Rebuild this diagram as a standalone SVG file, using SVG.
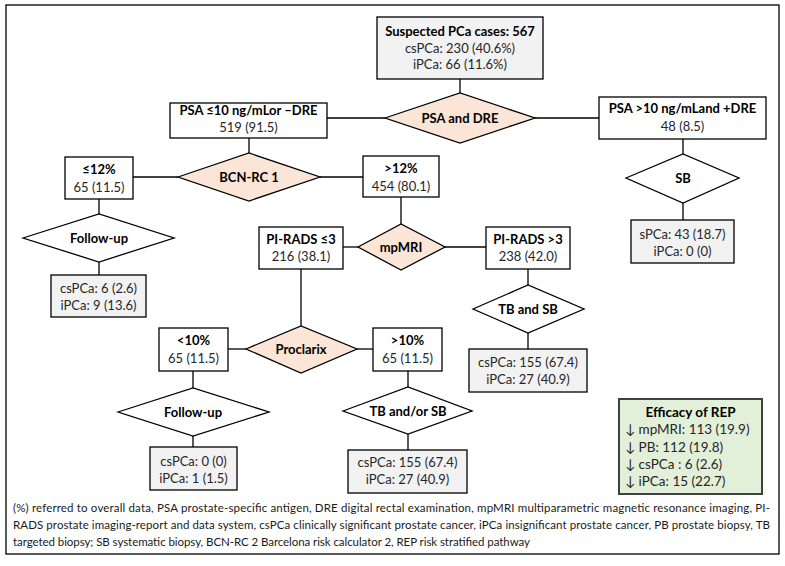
<svg xmlns="http://www.w3.org/2000/svg" width="785" height="566" viewBox="0 0 785 566">
<style>
text{font-family:Lato,"Open Sans","Liberation Sans",sans-serif;font-size:13px;fill:#262626;text-anchor:middle}
.b{font-weight:bold;fill:#000}
.box{fill:#fff;stroke:#000;stroke-width:1.3}
.res{fill:#f2f2f2;stroke:#000;stroke-width:1.3}
.dp{fill:#fbe5d6;stroke:#000;stroke-width:1.3}
.dw{fill:#fff;stroke:#000;stroke-width:1.3}
.fn{font-size:11.5px;text-anchor:start;fill:#1a1a1a}
.eff{text-anchor:start;font-size:13.5px}
#connectors line{stroke:#000;stroke-width:1.3}
</style>
<rect x="6" y="5" width="773" height="549" fill="#fff" stroke="#000" stroke-width="1.3"/>
<g id="connectors">
<line x1="460" y1="79" x2="460" y2="93"/>
<line x1="327" y1="118" x2="385" y2="118"/>
<line x1="535" y1="118" x2="599" y2="118"/>
<line x1="683" y1="139" x2="683" y2="154"/>
<line x1="683" y1="203" x2="683" y2="220"/>
<line x1="249" y1="138" x2="249" y2="153"/>
<line x1="133" y1="177" x2="178" y2="177"/>
<line x1="320" y1="177" x2="363" y2="177"/>
<line x1="99" y1="199" x2="99" y2="214"/>
<line x1="99" y1="262" x2="99" y2="275"/>
<line x1="401" y1="197" x2="401" y2="224"/>
<line x1="343" y1="247" x2="358" y2="247"/>
<line x1="445" y1="247" x2="486" y2="247"/>
<line x1="528" y1="269" x2="528" y2="285"/>
<line x1="528" y1="333" x2="528" y2="349"/>
<line x1="301" y1="269" x2="301" y2="326"/>
<line x1="228" y1="349" x2="246" y2="349"/>
<line x1="357" y1="349" x2="373" y2="349"/>
<line x1="193" y1="371" x2="193" y2="388"/>
<line x1="193" y1="436" x2="193" y2="447"/>
<line x1="408" y1="371" x2="408" y2="387"/>
<line x1="408" y1="434" x2="408" y2="450"/>
</g>
<g id="start">
<rect class="res" x="377" y="17" width="166" height="62"/>
<text class="b" x="460" y="35.5">Suspected PCa cases: 567</text>
<text x="460" y="52.5">csPCa: 230 (40.6%)</text>
<text x="460" y="68.5">iPCa: 66 (11.6%)</text>
</g>
<g id="psa-dre">
<polygon class="dp" points="385,118 460,93 535,118 460,143"/>
<text class="b" x="460" y="122.5">PSA and DRE</text>
</g>
<g id="psa-low">
<rect class="box" x="170" y="103" width="157" height="35"/>
<text class="b" x="248.5" y="114.5">PSA ≤10 ng/mLor –DRE</text>
<text x="248.5" y="131.5">519 (91.5)</text>
</g>
<g id="psa-high">
<rect class="box" x="599" y="97" width="167" height="42"/>
<text class="b" x="682.5" y="112.5">PSA &gt;10 ng/mLand +DRE</text>
<text x="682.5" y="130.5">48 (8.5)</text>
</g>
<g id="sb">
<polygon class="dw" points="626,178 683,154 739,178 683,203"/>
<text class="b" x="683" y="182.5">SB</text>
</g>
<g id="sb-result">
<rect class="res" x="631" y="220" width="103" height="43"/>
<text x="682.5" y="238.5">sPCa: 43 (18.7)</text>
<text x="682.5" y="256">iPCa: 0 (0)</text>
</g>
<g id="bcn">
<polygon class="dp" points="178,177 249,153 320,177 249,201"/>
<text class="b" x="249" y="181.5">BCN-RC 1</text>
</g>
<g id="bcn-low">
<rect class="box" x="65" y="157" width="68" height="42"/>
<text class="b" x="99" y="173.5">≤12%</text>
<text x="99" y="191.5">65 (11.5)</text>
</g>
<g id="bcn-high">
<rect class="box" x="363" y="156" width="76" height="41"/>
<text class="b" x="401" y="173">&gt;12%</text>
<text x="401" y="191">454 (80.1)</text>
</g>
<g id="follow-up-1">
<polygon class="dw" points="23,238 99,214 174,238 99,262"/>
<text class="b" x="99" y="242.5">Follow-up</text>
</g>
<g id="follow-up-1-result">
<rect class="res" x="51" y="275" width="95" height="42"/>
<text x="98.5" y="292.5">csPCa: 6 (2.6)</text>
<text x="98.5" y="310">iPCa: 9 (13.6)</text>
</g>
<g id="mpmri">
<polygon class="dp" points="358,247 401,224 445,247 401,270"/>
<text class="b" x="401" y="251.5">mpMRI</text>
</g>
<g id="pirads-low">
<rect class="box" x="259" y="227" width="84" height="42"/>
<text class="b" x="301" y="243.5">PI-RADS ≤3</text>
<text x="301" y="261">216 (38.1)</text>
</g>
<g id="pirads-high">
<rect class="box" x="486" y="227" width="84" height="42"/>
<text class="b" x="528" y="243.5">PI-RADS &gt;3</text>
<text x="528" y="261">238 (42.0)</text>
</g>
<g id="tb-sb">
<polygon class="dw" points="473,309 528,285 584,309 528,333"/>
<text class="b" x="528" y="313.5">TB and SB</text>
</g>
<g id="tb-sb-result">
<rect class="res" x="469" y="349" width="118" height="43"/>
<text x="528" y="366.5">csPCa: 155 (67.4)</text>
<text x="528" y="383.5">iPCa: 27 (40.9)</text>
</g>
<g id="proclarix">
<polygon class="dp" points="246,349 301,326 357,349 301,373"/>
<text class="b" x="301" y="353.5">Proclarix</text>
</g>
<g id="proclarix-low">
<rect class="box" x="159" y="328" width="69" height="43"/>
<text class="b" x="193.5" y="345">&lt;10%</text>
<text x="193.5" y="363">65 (11.5)</text>
</g>
<g id="proclarix-high">
<rect class="box" x="373" y="328" width="69" height="43"/>
<text class="b" x="407.5" y="345">&gt;10%</text>
<text x="407.5" y="363">65 (11.5)</text>
</g>
<g id="follow-up-2">
<polygon class="dw" points="118,412 193,388 269,412 193,436"/>
<text class="b" x="193" y="416.5">Follow-up</text>
</g>
<g id="follow-up-2-result">
<rect class="res" x="150" y="447" width="87" height="43"/>
<text x="193.5" y="466">csPCa: 0 (0)</text>
<text x="193.5" y="483">iPCa: 1 (1.5)</text>
</g>
<g id="tb-or-sb">
<polygon class="dw" points="343,411 408,387 472,411 408,434"/>
<text class="b" x="408" y="415.5">TB and/or SB</text>
</g>
<g id="tb-or-sb-result">
<rect class="res" x="348" y="450" width="119" height="43"/>
<text x="407.5" y="467">csPCa: 155 (67.4)</text>
<text x="407.5" y="484">iPCa: 27 (40.9)</text>
</g>
<g id="efficacy">
<rect x="619" y="399" width="143" height="95" fill="#e2f0d9" stroke="#404040" stroke-width="2"/>
<text class="b" x="690.5" y="417" style="font-size:13.5px">Efficacy of REP</text>
<text class="eff" x="625" y="434">↓ mpMRI: 113 (19.9)</text>
<text class="eff" x="625" y="451.5">↓ PB: 112 (19.8)</text>
<text class="eff" x="625" y="468.5">↓ csPCa : 6 (2.6)</text>
<text class="eff" x="625" y="485.5">↓ iPCa: 15 (22.7)</text>
</g>
<g id="footnote">
<text class="fn" x="13" y="512" textLength="757" lengthAdjust="spacing">(%) referred to overall data, PSA prostate-specific antigen, DRE digital rectal examination, mpMRI multiparametric magnetic resonance imaging, PI-</text>
<text class="fn" x="13" y="529" textLength="757" lengthAdjust="spacing">RADS prostate imaging-report and data system, csPCa clinically significant prostate cancer, iPCa insignificant prostate cancer, PB prostate biopsy, TB</text>
<text class="fn" x="13" y="546" textLength="517" lengthAdjust="spacing">targeted biopsy; SB systematic biopsy, BCN-RC 2 Barcelona risk calculator 2, REP risk stratified pathway</text>
</g>
</svg>
